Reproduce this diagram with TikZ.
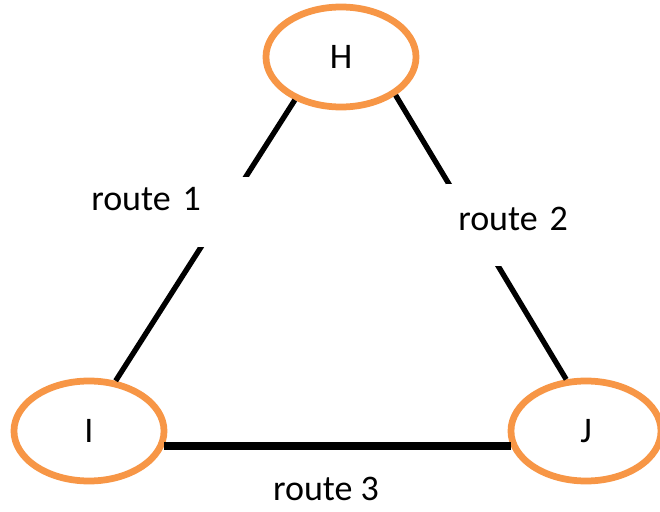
\documentclass[tikz,border=0pt]{standalone}
\usepackage{fontspec}
\setmainfont{Carlito}
\usepackage{tikz}
\usetikzlibrary{positioning, shapes.geometric}
\definecolor{siteRing}{HTML}{F79646}
\definecolor{linkInk}{HTML}{000000}
\newcommand{\lblfont}{\fontsize{25.6}{30}\selectfont}

\begin{document}
\begin{tikzpicture}[x=0.025cm, y=-0.025cm, site/.style={ellipse, draw=siteRing, line width=4.8pt, fill=white, minimum width=3.75cm, minimum height=2.5cm, inner sep=0pt, font=\lblfont},link/.style={line width=3.8pt, color=linkInk},routelbl/.style={fill=white, anchor=north west, inner ysep=0pt, align=left, font=\lblfont}]
\useasboundingbox (0,0) rectangle (660,512);
\node[site] (H) at (341,57) {H};
\node[site] (I) at (89,431) {I};
\node[site] (J) at (586,431) {J};
\draw[link] (H.223) -- (I.62);
\draw[link] (H.325) -- (J.111);
\draw[link, line width=5.6pt] (I.-11) -- (J.191);
% white boxes of the labels cut the two slanted links
\node[routelbl, inner xsep=0.15cm, text width=3.875cm, text height=0.825cm, text depth=0.925cm] (r1) at (85,177) {route 1};
\node[routelbl, inner xsep=0.3cm, text width=2.75cm, text height=1.15cm, text depth=0.9cm] (r2) at (446,184) {route 2};
\node[font=\lblfont] (r3) at (326,489) {route 3};
\end{tikzpicture}
\end{document}
